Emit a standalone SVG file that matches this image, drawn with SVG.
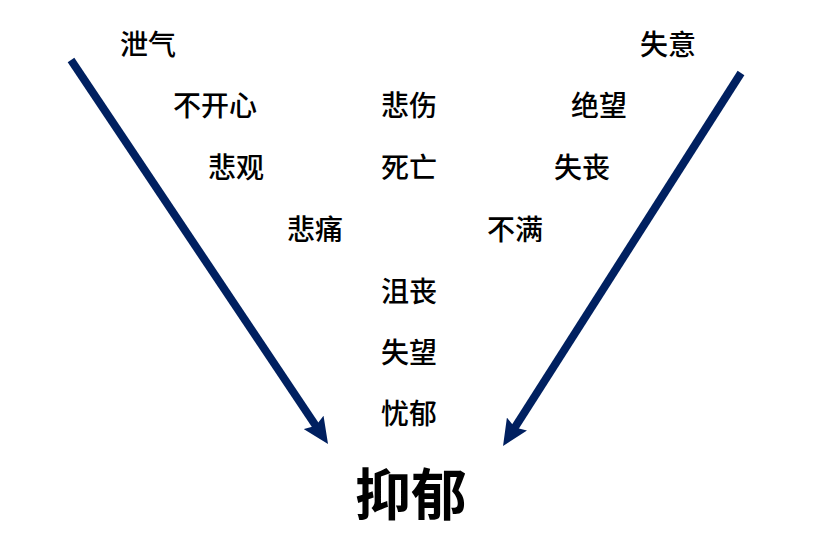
<svg xmlns="http://www.w3.org/2000/svg" width="832" height="543" viewBox="0 0 832 543">
<style>
text{font-family:"Noto Sans CJK SC","Noto Sans",sans-serif;fill:#000}
.w{font-size:28px;font-weight:500}
.big{font-size:56px;font-weight:700}
.arr{stroke:#002060;stroke-width:8;fill:none}
</style>
<defs>
<marker id="ah" markerUnits="userSpaceOnUse" viewBox="0 0 26 24" refX="6" refY="12" markerWidth="26" markerHeight="24" orient="auto">
<path d="M0,0 L26,12 L0,24 L4,12 z" fill="#002060"/>
</marker>
</defs>
<rect width="832" height="543" fill="#fff"/>
<g id="connectors">
<line class="arr" x1="71" y1="60" x2="316.9" y2="427.4" marker-end="url(#ah)"/>
<line class="arr" x1="741" y1="73" x2="513.8" y2="429.1" marker-end="url(#ah)"/>
</g>
<g id="n1"><text class="w" x="120" y="55">泄气</text></g>
<g id="n2"><text class="w" x="640" y="55">失意</text></g>
<g id="n3"><text class="w" x="173" y="116">不开心</text></g>
<g id="n4"><text class="w" x="381" y="116">悲伤</text></g>
<g id="n5"><text class="w" x="571" y="116">绝望</text></g>
<g id="n6"><text class="w" x="208" y="178">悲观</text></g>
<g id="n7"><text class="w" x="381" y="178">死亡</text></g>
<g id="n8"><text class="w" x="554" y="178">失丧</text></g>
<g id="n9"><text class="w" x="287" y="240">悲痛</text></g>
<g id="n10"><text class="w" x="487" y="240">不满</text></g>
<g id="n11"><text class="w" x="381" y="302">沮丧</text></g>
<g id="n12"><text class="w" x="381" y="363">失望</text></g>
<g id="n13"><text class="w" x="381" y="424">忧郁</text></g>
<g id="n14"><text class="big" x="355" y="515">抑郁</text></g>
</svg>
